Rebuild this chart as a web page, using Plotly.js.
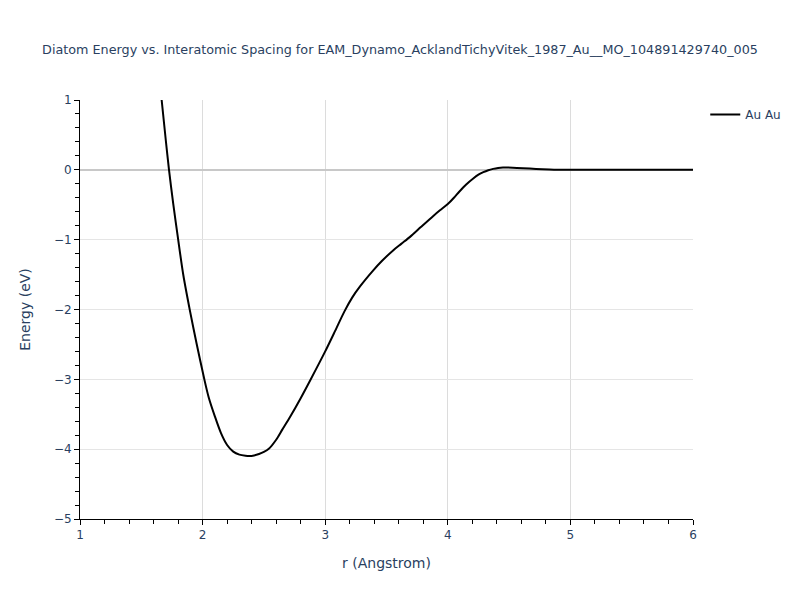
<!DOCTYPE html>
<html>
<head>
<meta charset="utf-8">
<script src="https://cdn.plot.ly/plotly-3.0.1.min.js"></script>
<style>html,body{margin:0;padding:0;background:#fff;}</style>
</head>
<body>
<div id="chart" style="width:800px;height:600px;"></div>
<script>
const seriesName = "Au Au";
const rValues = [1.666,1.70,1.726,1.76,1.80,1.843,1.897,1.95,2.014,2.05,2.10,2.15,2.20,2.25,2.30,2.35,2.38,2.42,2.46,2.50,2.54,2.60,2.65,2.713,2.80,2.876,3.0,3.08,3.156,3.22,3.284,3.392,3.46,3.556,3.62,3.692,3.78,3.882,3.936,4.0,4.05,4.095,4.15,4.21,4.25,4.29,4.33,4.37,4.41,4.45,4.53,4.615,4.72,4.83,4.9,5.0,5.1,5.2,5.3,5.4,5.5,5.6,5.7,5.8,5.9,6.0];
const energyValues = [1.0,0.42,0.0,-0.48,-0.99,-1.51,-2.02,-2.48,-3.0,-3.26,-3.53,-3.77,-3.94,-4.035,-4.078,-4.094,-4.098,-4.09,-4.07,-4.04,-3.995,-3.865,-3.72,-3.54,-3.27,-3.02,-2.6,-2.31,-2.03,-1.83,-1.67,-1.44,-1.31,-1.15,-1.06,-0.96,-0.82,-0.66,-0.58,-0.49,-0.40,-0.31,-0.21,-0.12,-0.07,-0.033,-0.005,0.014,0.027,0.033,0.031,0.024,0.012,0.003,0.0,0,0,0,0,0,0,0,0,0,0,0];
const titleText = "Diatom Energy vs. Interatomic Spacing for EAM_Dynamo_AcklandTichyVitek_1987_Au__MO_104891429740_005";
const xTitle = "r (Angstrom)";
const yTitle = "Energy (eV)";

const trace = {
  x: rValues, y: energyValues, type: 'scatter', mode: 'lines', name: seriesName,
  line: {color: 'black', width: 2, shape: 'spline', smoothing: 0.8}
};
const layout = {
  width: 800, height: 600,
  margin: {l: 80, r: 107, t: 100, b: 81},
  paper_bgcolor: 'white', plot_bgcolor: 'white',
  font: {family: 'DejaVu Sans, Verdana, sans-serif', color: '#2a3f5f', size: 12},
  title: {text: titleText, font: {size: 12.75, color: '#2a3f5f'}, x: 0.5, xref: 'container', y: 0.925, yref: 'container'},
  showlegend: true,
  legend: {x: 1.02, y: 1, xanchor: 'left', yanchor: 'top', font: {size: 12}},
  xaxis: {
    title: {text: xTitle, font: {size: 14}, standoff: 16},
    range: [1, 6], dtick: 1, tick0: 1,
    showgrid: true, gridcolor: '#dcdcdc',
    showline: true, linecolor: 'black', linewidth: 1,
    ticks: 'outside', ticklen: 5, tickcolor: 'black',
    minor: {dtick: 0.2, ticks: 'outside', ticklen: 4, tickcolor: 'black', showgrid: false},
    zeroline: false, automargin: false
  },
  yaxis: {
    title: {text: yTitle, font: {size: 14}, standoff: 19},
    range: [-5, 1], dtick: 1,
    showgrid: true, gridcolor: '#e5e5e5',
    showline: true, linecolor: 'black', linewidth: 1,
    ticks: 'outside', ticklen: 5, tickcolor: 'black',
    minor: {dtick: 0.2, ticks: 'outside', ticklen: 4, tickcolor: 'black', showgrid: false},
    zeroline: true, zerolinecolor: '#c8c8c8', zerolinewidth: 2, automargin: false
  }
};
Plotly.newPlot('chart', [trace], layout, {displayModeBar: false});
</script>
</body>
</html>
